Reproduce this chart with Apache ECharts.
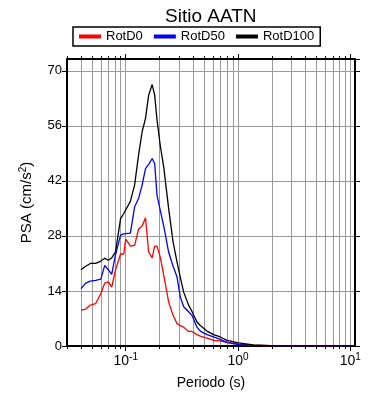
<!DOCTYPE html>
<html>
<head>
<meta charset="utf-8">
<script src="https://cdn.jsdelivr.net/npm/echarts@6/dist/echarts.min.js"></script>
<style>
  html, body { margin: 0; padding: 0; background: #fff; }
  #chartmain { width: 390px; height: 400px; }
</style>
</head>
<body>
<div id="chartmain"></div>
<script>
// periodos (s)
var periods = [0.040, 0.044, 0.0485, 0.054, 0.060, 0.065, 0.070, 0.075, 0.081, 0.090,
  0.096, 0.100, 0.110, 0.120, 0.130, 0.140, 0.150, 0.160, 0.172, 0.181,
  0.190, 0.203, 0.218, 0.241, 0.264, 0.286, 0.306, 0.328, 0.363, 0.389,
  0.431, 0.461, 0.529, 0.606, 0.695, 0.797, 1.01, 1.365, 1.93, 3.57, 10.0];

var rotD0 = [9.1, 9.4, 10.4, 10.8, 13.3, 16.0, 16.3, 15.0, 19.3, 23.4,
  23.4, 27.2, 25.4, 25.6, 29.7, 30.5, 32.6, 23.9, 22.4, 25.4,
  25.4, 22.6, 18.0, 11.2, 7.8, 5.7, 5.2, 4.8, 3.7, 3.7,
  2.9, 2.5, 2.0, 1.45, 1.3, 0.9, 0.5, 0.2, 0.08, 0.03, 0.01];

var rotD50 = [14.6, 16.0, 16.5, 16.7, 17.0, 20.5, 19.4, 18.2, 23.1, 28.2,
  28.5, 28.6, 28.7, 35.4, 37.5, 40.9, 45.1, 46.2, 47.7, 46.4,
  38.3, 34.5, 30.5, 23.9, 20.3, 17.6, 12.5, 10.0, 8.7, 7.8,
  4.8, 3.8, 2.9, 2.3, 1.7, 0.9, 0.35, 0.15, 0.07, 0.03, 0.01];

var rotD100 = [19.4, 20.3, 21.0, 21.0, 21.6, 22.3, 21.8, 22.4, 23.9, 32.4,
  33.7, 34.1, 36.8, 41.0, 48.5, 54.5, 57.9, 63.8, 66.5, 63.8,
  57.5, 51.0, 45.5, 35.0, 26.5, 21.4, 17.5, 13.7, 10.4, 8.8,
  6.1, 5.2, 3.8, 2.9, 2.3, 1.45, 0.8, 0.3, 0.12, 0.05, 0.02];

// marcas del eje x (escala log)
var majorTicks = [0.1, 1, 10];
var minorTicks = [0.03, 0.04, 0.05, 0.06, 0.07, 0.08, 0.09,
  0.2, 0.3, 0.4, 0.5, 0.6, 0.7, 0.8, 0.9,
  2, 3, 4, 5, 6, 7, 8, 9];

var xMin = Math.log10(0.03), xMax = Math.log10(11);
var FONT = 'Liberation Sans';
var GRID = '#9a9a9a';

function lg(a) { return a.map(function (v) { return Math.log10(v); }); }
function pairs(vals) {
  return periods.map(function (p, i) { return [Math.log10(p), vals[i]]; });
}

function xAx(pos, ticks, len, opts) {
  var ax = {
    type: 'value', position: pos, min: xMin, max: xMax,
    axisLine: { show: false, onZero: false },
    axisTick: { show: true, inside: false, length: len, customValues: lg(ticks),
      lineStyle: { color: '#000', width: 1 } },
    axisLabel: { show: false },
    splitLine: { show: false }
  };
  for (var k in opts) ax[k] = opts[k];
  return ax;
}

var option = {
  animation: false,
  title: {
    text: 'Sitio AATN', left: 160, top: 2,
    textStyle: { fontFamily: FONT, fontSize: 19, fontWeight: 'normal', color: '#000' }
  },
  legend: {
    data: ['RotD0', 'RotD50', 'RotD100'],
    left: 73, top: 27,
    icon: 'rect', itemWidth: 22, itemHeight: 4, itemGap: 11,
    padding: [3, 6, 3, 6],
    borderColor: '#000', borderWidth: 1.5,
    textStyle: { fontFamily: FONT, fontSize: 13, color: '#000' }
  },
  grid: { left: 67, right: 35, top: 59, bottom: 54 },
  xAxis: [
    xAx('bottom', majorTicks, 5, {
      axisLine: { show: true, onZero: false, lineStyle: { color: '#000', width: 2 } },
      axisLabel: {
        show: true, customValues: lg(majorTicks), margin: 6,
        formatter: function (v) {
          var e = Math.round(v);
          return '{b|10}{s|' + (e < 0 ? '-' + (-e) : e) + '}';
        },
        rich: {
          b: { fontFamily: FONT, fontSize: 14, color: '#000' },
          s: { fontFamily: FONT, fontSize: 10, color: '#000', padding: [0, 0, 8, 0] }
        }
      },
      splitLine: { show: true, lineStyle: { color: GRID, width: 1 } },
      name: 'Periodo (s)', nameLocation: 'middle', nameGap: 30,
      nameTextStyle: { fontFamily: FONT, fontSize: 14, color: '#000' }
    }),
    xAx('bottom', minorTicks, 3, {
      splitLine: { show: true, lineStyle: { color: GRID, width: 1 } }
    }),
    xAx('top', majorTicks, 5, {
      axisLine: { show: true, onZero: false, lineStyle: { color: '#000', width: 2 } }
    }),
    xAx('top', minorTicks, 3, {})
  ],
  yAxis: [
    {
      type: 'value', position: 'left', min: 0, max: 73, interval: 14,
      axisLine: { show: true, onZero: false, lineStyle: { color: '#000', width: 2 } },
      axisTick: { show: true, length: 5, lineStyle: { color: '#000' } },
      axisLabel: { fontFamily: FONT, fontSize: 13, color: '#000', margin: 5 },
      splitLine: { show: true, lineStyle: { color: GRID, width: 1 } },
      name: 'PSA (cm/s{s|2})', nameLocation: 'middle', nameGap: 31,
      nameTextStyle: {
        fontFamily: FONT, fontSize: 15, color: '#000',
        rich: { s: { fontFamily: FONT, fontSize: 10, color: '#000', padding: [0, 0, 8, 0] } }
      }
    },
    {
      type: 'value', position: 'right', min: 0, max: 73, interval: 14,
      axisLine: { show: true, onZero: false, lineStyle: { color: '#000', width: 2 } },
      axisTick: { show: true, length: 5, lineStyle: { color: '#000' } },
      axisLabel: { show: false },
      splitLine: { show: false }
    }
  ],
  series: [
    { name: 'RotD0', type: 'line', data: pairs(rotD0), showSymbol: false,
      itemStyle: { color: '#ff0000' }, lineStyle: { color: '#ff0000', width: 1.3 } },
    { name: 'RotD50', type: 'line', data: pairs(rotD50), showSymbol: false,
      itemStyle: { color: '#0000ff' }, lineStyle: { color: '#0000ff', width: 1.3 } },
    { name: 'RotD100', type: 'line', data: pairs(rotD100), showSymbol: false,
      itemStyle: { color: '#000000' }, lineStyle: { color: '#000000', width: 1.3 } }
  ]
};

var myChart = echarts.init(document.getElementById('chartmain'));
myChart.setOption(option);
</script>
</body>
</html>
